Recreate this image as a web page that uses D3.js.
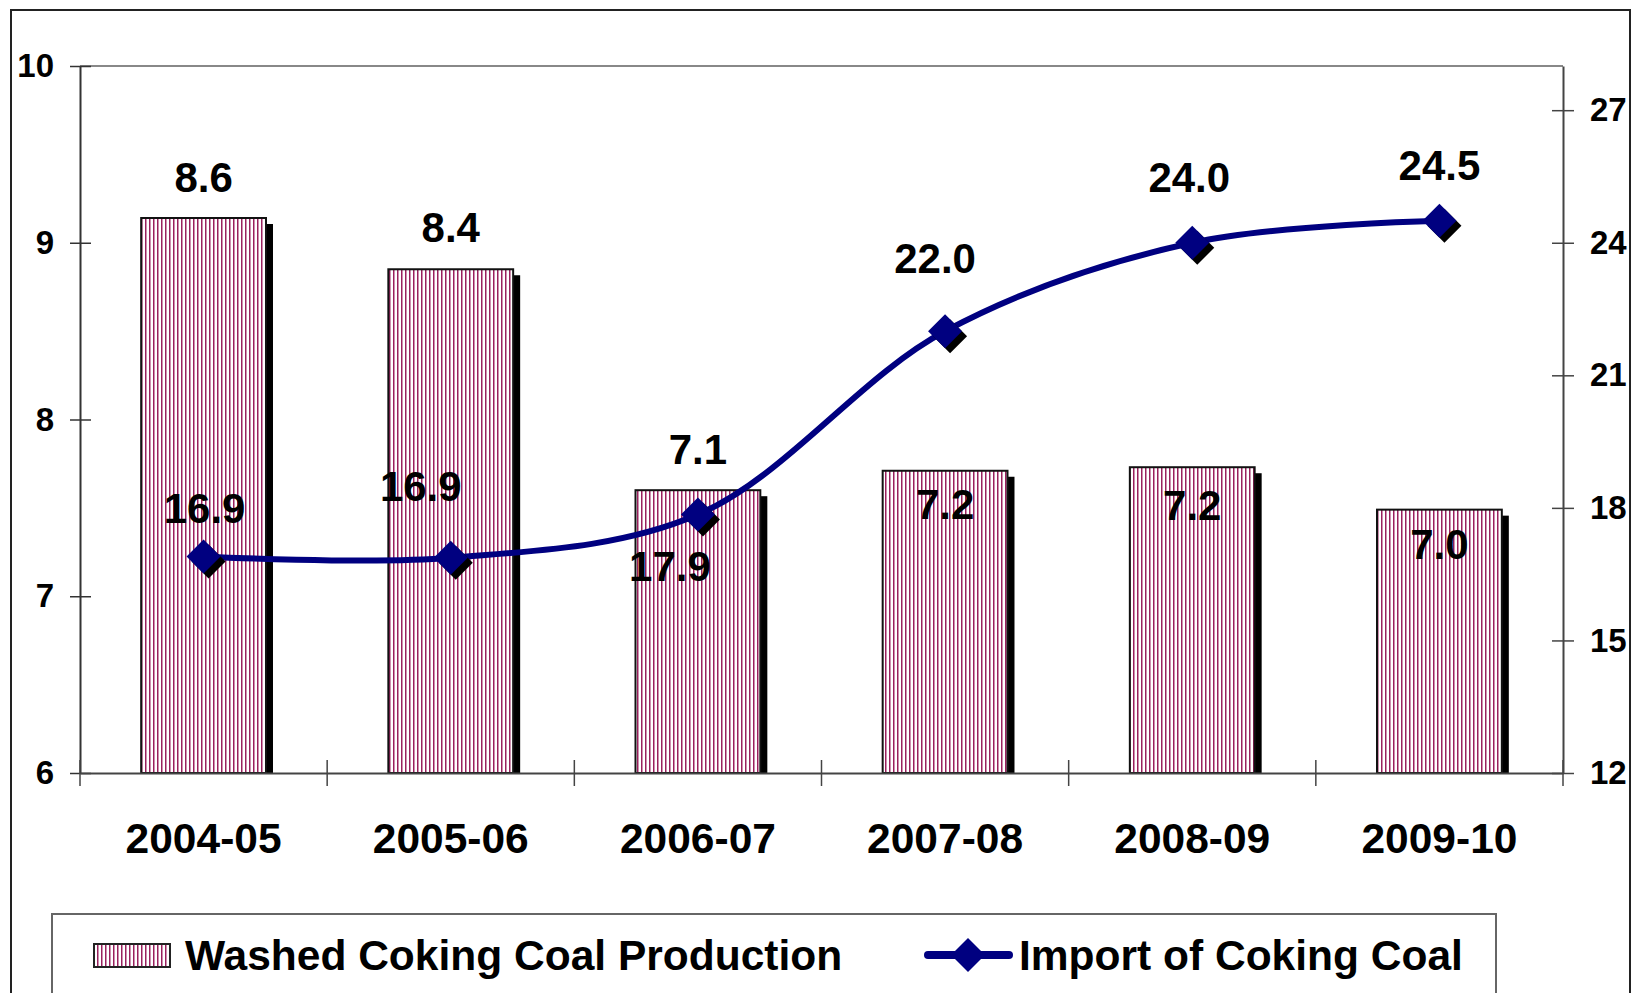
<!DOCTYPE html>
<html>
<head>
<meta charset="utf-8">
<script src="https://cdn.jsdelivr.net/npm/d3@7"></script>
<style>
  html, body { margin: 0; padding: 0; background: #fff; }
  svg { display: block; font-family: "Liberation Sans", Arial, sans-serif; font-weight: bold; }
</style>
</head>
<body>
<svg id="chart" width="1631" height="993"></svg>
<script>
const years = ['2004-05', '2005-06', '2006-07', '2007-08', '2008-09', '2009-10'];
// bar heights as drawn against the left axis
const washedHeights = [9.14, 8.85, 7.6, 7.71, 7.73, 7.49];
// the labels printed on the bars
const washedLabels = ['8.6', '8.4', '7.1', '7.2', '7.2', '7.0'];
const importValues = [16.9, 16.87, 17.85, 22.0, 24.0, 24.5];
const importLabels = ['16.9', '16.9', '17.9', '22.0', '24.0', '24.5'];
const leftTicks = [6, 7, 8, 9, 10];
const rightTicks = [12, 15, 18, 21, 24, 27];

const svg = d3.select('#chart');
const plot = { left: 80, right: 1563, top: 66, bottom: 773 };

// pattern for the striped bars
const defs = svg.append('defs');
const pat = defs.append('pattern')
  .attr('id', 'stripes')
  .attr('patternUnits', 'userSpaceOnUse')
  .attr('width', 4).attr('height', 10);
pat.append('rect').attr('width', 4).attr('height', 10).attr('fill', '#fff');
pat.append('rect').attr('x', 1).attr('width', 1.5).attr('height', 10).attr('fill', '#99205e');

// outer chart border
svg.append('rect')
  .attr('x', 11).attr('y', 10).attr('width', 1619).attr('height', 1010)
  .attr('fill', 'none').attr('stroke', '#222').attr('stroke-width', 2);

const xCat = d3.scaleBand().domain(years).range([plot.left, plot.right]).padding(0);
const barW = xCat.bandwidth() * 0.505;
const yL = d3.scaleLinear().domain([6, 10]).range([plot.bottom, plot.top]);
const yR = d3.scaleLinear().domain([12, 28]).range([plot.bottom, plot.top]);
const cx = d => xCat(d) + xCat.bandwidth() / 2;

// top frame line
svg.append('line')
  .attr('x1', plot.left).attr('x2', plot.right)
  .attr('y1', plot.top).attr('y2', plot.top)
  .attr('stroke', '#888').attr('stroke-width', 2);

// bars with shadows
const bars = svg.append('g');
bars.selectAll('rect.shadow').data(years).join('rect')
  .attr('class', 'shadow')
  .attr('x', (d) => cx(d) - barW / 2 + 7)
  .attr('y', (d, i) => yL(washedHeights[i]) + 6)
  .attr('width', barW)
  .attr('height', (d, i) => plot.bottom - yL(washedHeights[i]) - 6)
  .attr('fill', '#000');
bars.selectAll('rect.bar').data(years).join('rect')
  .attr('class', 'bar')
  .attr('x', d => cx(d) - barW / 2)
  .attr('y', (d, i) => yL(washedHeights[i]))
  .attr('width', barW)
  .attr('height', (d, i) => plot.bottom - yL(washedHeights[i]))
  .attr('fill', 'url(#stripes)')
  .attr('stroke', '#111').attr('stroke-width', 2);

// left axis
const axL = svg.append('g')
  .attr('transform', `translate(${plot.left},0)`)
  .call(d3.axisLeft(yL).tickValues(leftTicks).tickSize(10).tickSizeOuter(0).tickPadding(16).tickFormat(d3.format('d')));
axL.select('.domain').attr('stroke', '#333').attr('stroke-width', 2);
axL.selectAll('.tick line').attr('x2', -10).attr('x1', 11).attr('stroke', '#333').attr('stroke-width', 1.5);
axL.selectAll('.tick text').attr('font-size', 33).attr('font-family', null).attr('fill', '#000');

// right axis
const axR = svg.append('g')
  .attr('transform', `translate(${plot.right},0)`)
  .call(d3.axisRight(yR).tickValues(rightTicks).tickSize(11).tickSizeOuter(0).tickPadding(16).tickFormat(d3.format('d')));
axR.select('.domain').attr('stroke', '#444').attr('stroke-width', 2);
axR.selectAll('.tick line').attr('x1', -11).attr('stroke', '#444').attr('stroke-width', 1.5);
axR.selectAll('.tick text').attr('font-size', 33).attr('font-family', null).attr('fill', '#000');

// bottom axis
const axB = svg.append('g')
  .attr('transform', `translate(0,${plot.bottom})`)
  .call(d3.axisBottom(xCat).tickSize(0).tickPadding(50));
axB.select('.domain').attr('stroke', '#444').attr('stroke-width', 2);
axB.selectAll('.tick text').attr('font-size', 42.5).attr('font-family', null).attr('fill', '#000');
const bounds = years.map(d => xCat(d)).concat([plot.right]);
axB.selectAll('line.bound').data(bounds).join('line')
  .attr('class', 'bound')
  .attr('x1', d => d).attr('x2', d => d)
  .attr('y1', -13).attr('y2', 13)
  .attr('stroke', '#444').attr('stroke-width', 1.5);

// import line
const line = d3.line()
  .x((d, i) => cx(years[i]))
  .y(d => yR(d))
  .curve(d3.curveCatmullRom.alpha(0.5));
svg.append('path')
  .datum(importValues)
  .attr('d', line)
  .attr('fill', 'none')
  .attr('stroke', '#000080')
  .attr('stroke-width', 6)
  .attr('stroke-linejoin', 'round');

const diamond = r => `M0,${-r}L${r},0L0,${r}L${-r},0Z`;
const marks = svg.append('g');
marks.selectAll('path.msh').data(importValues).join('path')
  .attr('class', 'msh')
  .attr('transform', (d, i) => `translate(${cx(years[i]) + 5},${yR(d) + 5})`)
  .attr('d', diamond(17))
  .attr('fill', '#000');
marks.selectAll('path.mk').data(importValues).join('path')
  .attr('class', 'mk')
  .attr('transform', (d, i) => `translate(${cx(years[i])},${yR(d)})`)
  .attr('d', diamond(17))
  .attr('fill', '#000080');

// data labels
const barLabelDy = [-41, -42, -41, 34, 38, 35];
svg.append('g').selectAll('text').data(washedLabels).join('text')
  .attr('x', (d, i) => cx(years[i]))
  .attr('y', (d, i) => yL(washedHeights[i]) + barLabelDy[i])
  .attr('dy', '0.35em')
  .attr('text-anchor', 'middle')
  .attr('font-size', 42)
  .text(d => d);

const importLabelOff = [[1, -48], [-30, -72], [-28, 52], [-10, -73], [-3, -65], [0, -55]];
svg.append('g').selectAll('text').data(importLabels).join('text')
  .attr('x', (d, i) => cx(years[i]) + importLabelOff[i][0])
  .attr('y', (d, i) => yR(importValues[i]) + importLabelOff[i][1])
  .attr('dy', '0.35em')
  .attr('text-anchor', 'middle')
  .attr('font-size', 42)
  .text(d => d);

// legend
const lg = svg.append('g');
lg.append('rect')
  .attr('x', 52).attr('y', 914).attr('width', 1444).attr('height', 110)
  .attr('fill', '#fff').attr('stroke', '#666').attr('stroke-width', 2);
lg.append('rect')
  .attr('x', 94).attr('y', 944).attr('width', 76).attr('height', 23)
  .attr('fill', 'url(#stripes)').attr('stroke', '#222').attr('stroke-width', 2);
lg.append('text')
  .attr('x', 185).attr('y', 955).attr('dy', '0.35em')
  .attr('font-size', 42.5)
  .text('Washed Coking Coal Production');
lg.append('line')
  .attr('x1', 928).attr('x2', 1009).attr('y1', 955).attr('y2', 955)
  .attr('stroke', '#000080').attr('stroke-width', 8).attr('stroke-linecap', 'round');
lg.append('path')
  .attr('transform', 'translate(968,955)')
  .attr('d', diamond(17))
  .attr('fill', '#000080');
lg.append('text')
  .attr('x', 1019).attr('y', 955).attr('dy', '0.35em')
  .attr('font-size', 42.5)
  .text('Import of Coking Coal');
</script>
</body>
</html>
